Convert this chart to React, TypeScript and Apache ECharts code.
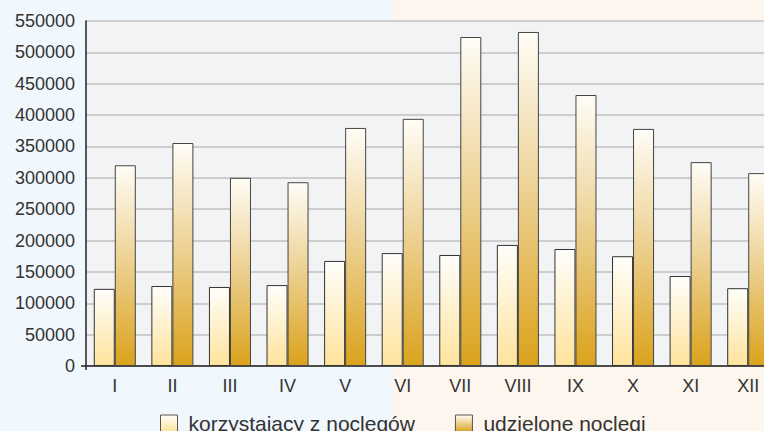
import React, { useEffect, useRef } from "react";
import * as echarts from "echarts";

const categories = ["I", "II", "III", "IV", "V", "VI", "VII", "VIII", "IX", "X", "XI", "XII"];
const korzystajacy = [123000, 127500, 126000, 129000, 167500, 180000, 177000, 193000, 186500, 175000, 143500, 124000];
const udzielone = [320000, 355500, 300000, 293000, 379500, 394000, 524500, 532500, 432000, 378000, 325000, 307500];
const seriesNames = ["korzystający z noclegów", "udzielone noclegi"];

export default function App() {
  const ref = useRef<HTMLDivElement>(null);
  useEffect(() => {
    if (!ref.current) return;
    const chart = echarts.init(ref.current, null, { renderer: "svg" });
    const font = "'Liberation Sans', Arial, sans-serif";
    chart.setOption({
      animation: false,
      textStyle: { fontFamily: font },
      grid: {
        left: 86,
        top: 21,
        width: 691,
        height: 345,
        show: true,
        backgroundColor: "#f2f3f5",
        borderWidth: 0,
      },
      legend: {
        left: 155,
        top: 408,
        itemWidth: 17,
        itemHeight: 17,
        itemGap: 40,
        icon: "rect",
        textStyle: { fontSize: 21, color: "#333", fontFamily: font, padding: [0, 0, 0, 6] },
        itemStyle: { borderColor: "#555", borderWidth: 1 },
        data: seriesNames,
      },
      xAxis: {
        type: "category",
        data: categories,
        axisLine: { show: true, lineStyle: { color: "#222", width: 1.5 } },
        axisTick: { show: false },
        axisLabel: { fontSize: 18, color: "#333", margin: 11, fontFamily: font },
        splitLine: { show: false },
      },
      yAxis: {
        type: "value",
        min: 0,
        max: 550000,
        interval: 50000,
        axisLine: { show: true, lineStyle: { color: "#222", width: 1.5 } },
        axisTick: { show: false },
        axisLabel: {
          fontSize: 18,
          color: "#333",
          margin: 11,
          fontFamily: font,
          formatter: (v: number) => String(v),
        },
        splitLine: { show: true, lineStyle: { color: "#c0c0c0", width: 1.5 } },
      },
      graphic: [
        { type: "line", shape: { x1: 81, y1: 366, x2: 86, y2: 366 }, style: { stroke: "#222", lineWidth: 1.5 } },
        { type: "line", shape: { x1: 86, y1: 366, x2: 86, y2: 370 }, style: { stroke: "#222", lineWidth: 1.5 } },
      ],
      series: [
        {
          name: seriesNames[0],
          type: "bar",
          data: korzystajacy,
          barGap: "0%",
          barCategoryGap: "27%",
          itemStyle: {
            color: new echarts.graphic.LinearGradient(0, 0, 0, 1, [
              { offset: 0, color: "#fffefb" },
              { offset: 1, color: "#fee39c" },
            ]),
            borderColor: "#333",
            borderWidth: 1,
          },
        },
        {
          name: seriesNames[1],
          type: "bar",
          data: udzielone,
          itemStyle: {
            color: new echarts.graphic.LinearGradient(0, 0, 0, 1, [
              { offset: 0, color: "#fffdf7" },
              { offset: 0.5, color: "#eccf8e" },
              { offset: 1, color: "#dba31c" },
            ]),
            borderColor: "#444",
            borderWidth: 1,
          },
        },
      ],
    });
    return () => chart.dispose();
  }, []);
  return (
    <div
      style={{
        position: "fixed",
        left: 0,
        top: 0,
        width: 764,
        height: 431,
        overflow: "hidden",
        background: "linear-gradient(to right, #f0f7fd 0px, #f0f7fd 393px, #fdf6ee 393px, #fdf6ee 100%)",
      }}
    >
      <div ref={ref} style={{ width: 800, height: 431 }} />
    </div>
  );
}
